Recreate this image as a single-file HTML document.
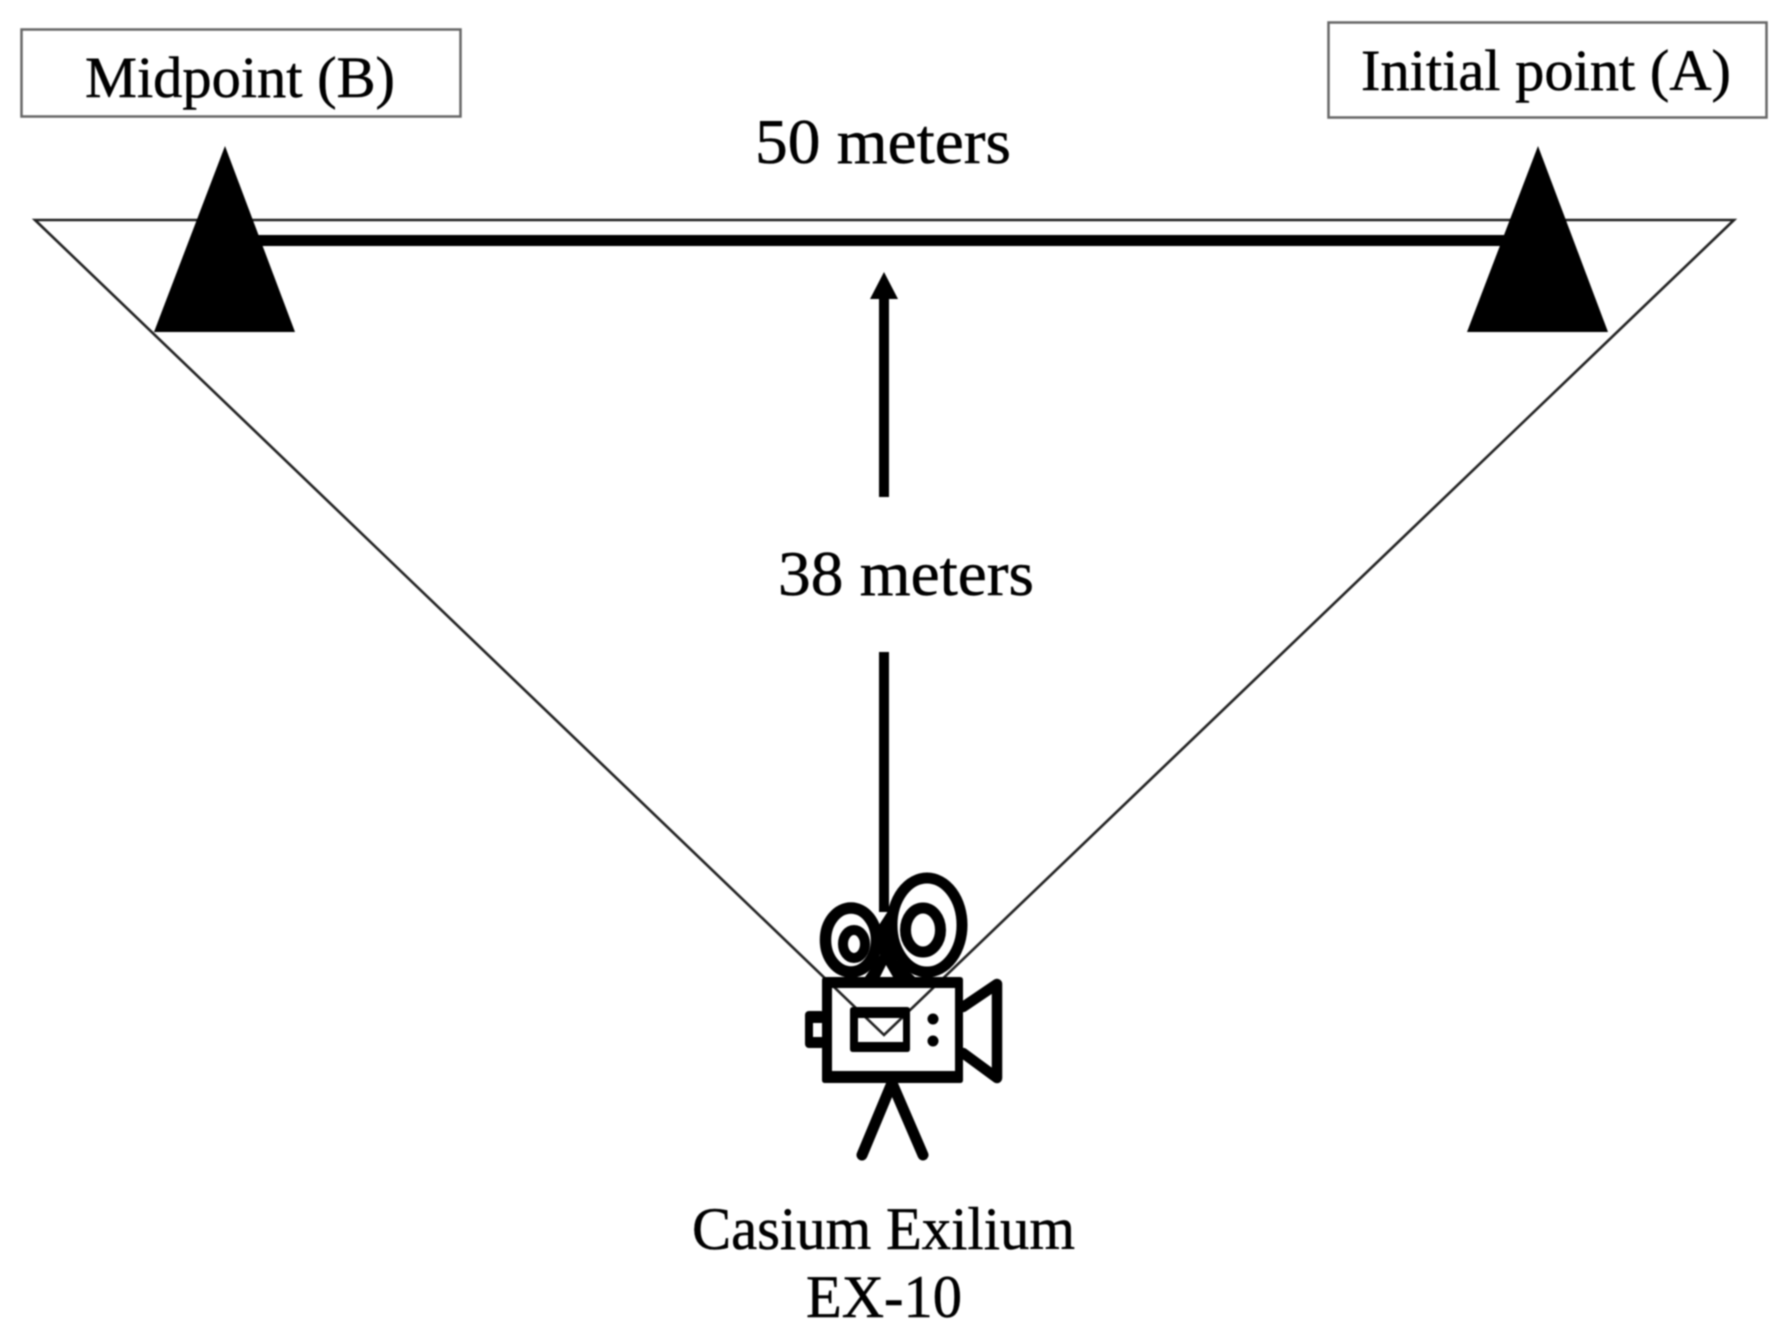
<!DOCTYPE html>
<html>
<head>
<meta charset="utf-8">
<style>
html,body{margin:0;padding:0;background:#fff;width:1791px;height:1343px;overflow:hidden}
svg{display:block;filter:blur(.8px)}
text{font-family:"Liberation Serif",serif;fill:#000;stroke:#000;stroke-width:.5}
</style>
</head>
<body>
<svg width="1791" height="1343" viewBox="0 0 1791 1343" xmlns="http://www.w3.org/2000/svg">
<rect width="1791" height="1343" fill="#fff"/>
<rect x="21.5" y="29.5" width="439" height="87" fill="none" stroke="#666" stroke-width="2.5"/>
<rect x="1335.5" y="22.5" width="438" height="95" fill="none" stroke="#666" stroke-width="2.5" transform="translate(-7 0)"/>
<text x="85" y="97" font-size="58" textLength="310" lengthAdjust="spacingAndGlyphs">Midpoint (B)</text>
<text x="1361" y="90" font-size="58" textLength="370" lengthAdjust="spacingAndGlyphs">Initial point (A)</text>
<text x="755" y="163" font-size="64" textLength="256" lengthAdjust="spacingAndGlyphs">50 meters</text>
<text x="778" y="595" font-size="64" textLength="256" lengthAdjust="spacingAndGlyphs">38 meters</text>
<text x="692" y="1249" font-size="60" textLength="383" lengthAdjust="spacingAndGlyphs">Casium Exilium</text>
<text x="806" y="1317" font-size="60" textLength="156" lengthAdjust="spacingAndGlyphs">EX-10</text>

<polygon points="35,220 1734,220 884,1035" fill="none" stroke="#222" stroke-width="2.6"/>
<rect x="250" y="235" width="1270" height="11" fill="#000"/>
<polygon points="225,146 295,332 154,332" fill="#000"/>
<polygon points="1548,146 1618,332 1477,332" fill="#000" transform="translate(-10 0)"/>

<rect x="879" y="295" width="10" height="202" fill="#000"/>
<polygon points="884,272 898,299 870,299" fill="#000"/>
<rect x="879" y="652" width="10" height="260" fill="#000"/>

<!-- camera -->
<ellipse cx="851" cy="940" rx="25.5" ry="32" fill="#fff" stroke="#000" stroke-width="11.5"/>
<ellipse cx="854" cy="944" rx="11" ry="14" fill="#fff" stroke="#000" stroke-width="10"/>
<ellipse cx="927" cy="925" rx="35" ry="47" fill="#fff" stroke="#000" stroke-width="11"/>
<ellipse cx="923" cy="930" rx="17.5" ry="22" fill="#fff" stroke="#000" stroke-width="11"/>
<polygon points="879,925 890,908 897,960 915,977 893,977 886,965 880,977 865,977 880,955" fill="#000"/>
<rect x="805" y="1011" width="20" height="37" rx="4" fill="#000"/>
<rect x="813" y="1023" width="10" height="14" fill="#fff"/>
<path fill-rule="evenodd" fill="#000" d="M825,977 H960 Q963,977 963,980 V1080 Q963,1083 960,1083 H825 Q822,1083 822,1080 V980 Q822,977 825,977 Z M832,988 V1071 H955 V988 Z"/>
<path fill-rule="evenodd" fill="#000" d="M853,1007 H907 Q910,1007 910,1010 V1049 Q910,1052 907,1052 H853 Q850,1052 850,1049 V1010 Q850,1007 853,1007 Z M858,1018 V1042 H903 V1018 Z"/>
<circle cx="933" cy="1019" r="5.5" fill="#000"/>
<circle cx="933" cy="1041" r="5.5" fill="#000"/>
<polyline points="963,1007 997,984 997,1078 963,1053" fill="none" stroke="#000" stroke-width="10.5" stroke-linejoin="round" stroke-linecap="round"/>
<path d="M892,1083 L862,1155 M892,1083 L923,1155" fill="none" stroke="#000" stroke-width="11" stroke-linecap="round"/>
</svg>
</body>
</html>
